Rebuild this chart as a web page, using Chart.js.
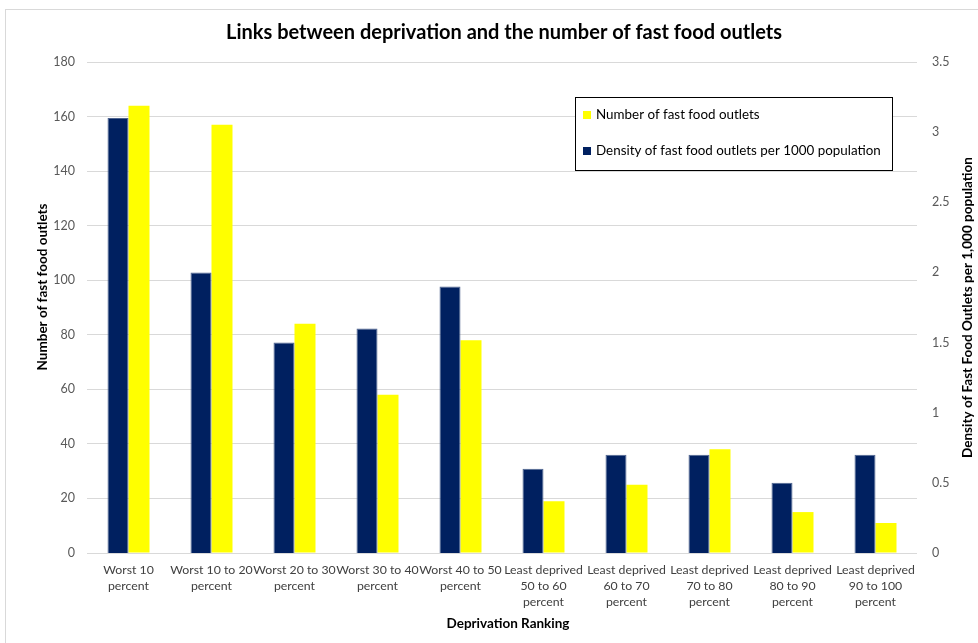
<!DOCTYPE html>
<html>
<head>
<meta charset="utf-8">
<script src="https://cdn.jsdelivr.net/npm/chart.js@4"></script>
<style>
html,body{margin:0;padding:0;background:#fff;}
#wrap{position:relative;width:978px;height:643px;}
canvas{display:block;}
</style>
</head>
<body>
<div id="wrap"><canvas id="c" width="978" height="643"></canvas></div>
<script>
const titleText = 'Links between deprivation and the number of fast food outlets';
const xAxisTitle = 'Deprivation Ranking';
const leftAxisTitle = 'Number of fast food outlets';
const rightAxisTitle = 'Density of Fast Food Outlets per 1,000 population';

const categories = [
  ['Worst 10', 'percent'],
  ['Worst 10 to 20', 'percent'],
  ['Worst 20 to 30', 'percent'],
  ['Worst 30 to 40', 'percent'],
  ['Worst 40 to 50', 'percent'],
  ['Least deprived', '50 to 60', 'percent'],
  ['Least deprived', '60 to 70', 'percent'],
  ['Least deprived', '70 to 80', 'percent'],
  ['Least deprived', '80 to 90', 'percent'],
  ['Least deprived', '90 to 100', 'percent']
];
const numberLabel = 'Number of fast food outlets';
const numberOfOutlets = [164, 157, 84, 58, 78, 19, 25, 38, 15, 11];
const densityLabel = 'Density of fast food outlets per 1000 population';
const densityPer1000 = [3.1, 2.0, 1.5, 1.6, 1.9, 0.6, 0.7, 0.7, 0.5, 0.7];

const leftTicks = [0, 20, 40, 60, 80, 100, 120, 140, 160, 180];
const rightTicks = ['0', '0.5', '1', '1.5', '2', '2.5', '3', '3.5'];

const FONT = 'Lato, "Open Sans", sans-serif';
const NAVY = '#002060';
const YELLOW = '#FFFF00';

const customDraw = {
  id: 'customDraw',
  beforeDraw(chart) {
    const ctx = chart.ctx;
    ctx.save();
    ctx.fillStyle = '#fff';
    ctx.fillRect(0, 0, chart.width, chart.height);
    ctx.strokeStyle = '#d9d9d9';
    ctx.lineWidth = 1;
    ctx.strokeRect(5.5, 9.5, 1200, 1200);
    ctx.restore();
  },
  afterDatasetsDraw(chart) {
    const ctx = chart.ctx;
    const bx = 575.5, by = 97.5, bw = 317, bh = 73;
    ctx.save();
    ctx.fillStyle = '#fff';
    ctx.fillRect(bx, by, bw, bh);
    ctx.strokeStyle = '#000';
    ctx.lineWidth = 1;
    ctx.strokeRect(bx, by, bw, bh);
    const items = chart.data.datasets.slice().reverse();
    ctx.font = '13.4px ' + FONT;
    ctx.textBaseline = 'middle';
    ctx.textAlign = 'left';
    items.forEach((ds, i) => {
      const cy = 115 + i * 36;
      ctx.fillStyle = ds.backgroundColor;
      ctx.fillRect(583, cy - 4, 8, 8);
      ctx.fillStyle = '#000';
      ctx.fillText(ds.label, 596, cy);
    });
    ctx.restore();
  },
  afterDraw(chart) {
    const ctx = chart.ctx;
    const ca = chart.chartArea;
    const cx = (ca.left + ca.right) / 2;
    const cy = (ca.top + ca.bottom) / 2;
    ctx.save();
    ctx.fillStyle = '#000';
    ctx.textAlign = 'center';
    ctx.textBaseline = 'middle';
    ctx.font = 'bold 20px ' + FONT;
    ctx.fillText(titleText, cx + 2, 33);
    ctx.font = 'bold 13.5px ' + FONT;
    ctx.fillText(xAxisTitle, cx + 6, 624);
    ctx.save();
    ctx.translate(43, 287);
    ctx.rotate(-Math.PI / 2);
    ctx.fillText(leftAxisTitle, 0, 0);
    ctx.restore();
    ctx.save();
    ctx.translate(968, cy);
    ctx.rotate(-Math.PI / 2);
    ctx.fillText(rightAxisTitle, 0, 0);
    ctx.restore();
    ctx.restore();
  }
};

new Chart(document.getElementById('c'), {
  type: 'bar',
  data: {
    labels: categories,
    datasets: [
      {
        label: densityLabel,
        data: densityPer1000,
        yAxisID: 'y1',
        backgroundColor: NAVY,
        borderColor: '#4f6590',
        borderWidth: 1
      },
      {
        label: numberLabel,
        data: numberOfOutlets,
        yAxisID: 'y',
        backgroundColor: YELLOW,
        borderWidth: 0
      }
    ]
  },
  options: {
    responsive: false,
    animation: false,
    devicePixelRatio: 1,
    layout: { padding: { top: 62, left: 0, right: 0, bottom: 0 } },
    plugins: {
      legend: { display: false },
      title: { display: false },
      tooltip: { enabled: false }
    },
    datasets: {
      bar: { categoryPercentage: 0.506, barPercentage: 1.0 }
    },
    scales: {
      x: {
        grid: { display: false, drawTicks: false },
        border: { display: false },
        ticks: {
          autoSkip: false,
          maxRotation: 0,
          minRotation: 0,
          padding: 9,
          color: '#404040',
          font: { family: FONT, size: 12.3, lineHeight: 1.3 }
        },
        afterFit(axis) { axis.height = 90; }
      },
      y: {
        position: 'left',
        min: 0,
        max: 180,
        afterBuildTicks(axis) { axis.ticks = leftTicks.map(v => ({ value: v })); },
        grid: { color: '#d9d9d9', drawTicks: false, lineWidth: 1 },
        border: { display: false },
        ticks: {
          padding: 12,
          color: '#595959',
          font: { family: FONT, size: 12.5 }
        },
        afterFit(axis) { axis.width = 87; }
      },
      y1: {
        position: 'right',
        min: 0,
        max: 3.5,
        afterBuildTicks(axis) { axis.ticks = rightTicks.map(v => ({ value: parseFloat(v) })); },
        grid: { display: false, drawTicks: false },
        border: { display: false },
        ticks: {
          padding: 15,
          color: '#595959',
          font: { family: FONT, size: 12.5 },
          callback: (v, i) => rightTicks[i]
        },
        afterFit(axis) { axis.width = 61; }
      }
    }
  },
  plugins: [customDraw]
});
</script>
</body>
</html>
